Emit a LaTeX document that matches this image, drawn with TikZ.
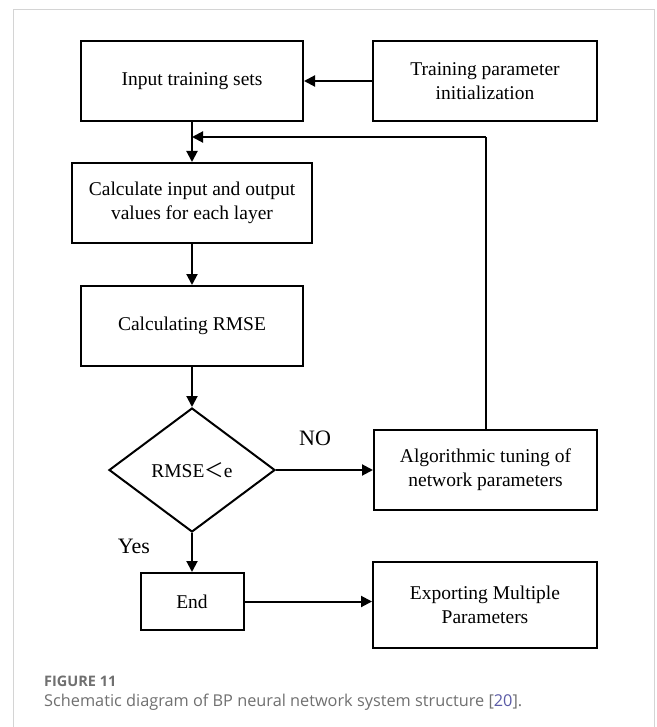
\documentclass[tikz,border=0pt]{standalone}
\usepackage{fontspec}
\setmainfont{Liberation Serif}
\newfontfamily\capfont{Open Sans}
\newfontfamily\cjkf{Noto Sans CJK SC}
\usetikzlibrary{arrows.meta,shapes.geometric}
\definecolor{capgray}{HTML}{707070}
\definecolor{reflink}{HTML}{5B5BA6}
\definecolor{framegray}{HTML}{D4D4D4}
\tikzset{
  box/.style={draw, line width=2pt, rectangle, align=center, inner sep=0pt,
    font=\fontsize{19.5}{24}\selectfont},
  dec/.style={draw, line width=2pt, diamond, inner sep=0pt,
    minimum width=166pt, minimum height=124pt, font=\fontsize{19.5}{24}\selectfont},
  arr/.style={line width=2pt, -{Triangle[length=11pt,width=11pt]}},
  ln/.style={line width=2pt},
  lbl/.style={font=\fontsize{22}{26}\selectfont, inner sep=0pt}
}
\begin{document}
\begin{tikzpicture}[x=1pt,y=-1pt]
\useasboundingbox (0,0) rectangle (656,727);
\fill[white] (0,0) rectangle (656,727);
\draw[framegray, line width=1pt] (13,728) -- (13,10) -- (654,10) -- (654,728);

\node[box, minimum width=222pt, minimum height=80pt] (input) at (192,81) {Input training sets};
\node[box, minimum width=224pt, minimum height=80pt] (train) at (485,81) {Training parameter\\initialization};
\node[box, minimum width=240pt, minimum height=80pt] (calc) at (192,203) {Calculate input and output\\values for each layer};
\node[box, minimum width=222pt, minimum height=80pt] (rmse) at (192,326) {Calculating RMSE};
\node[dec] (dec) at (192,470) {RMSE{\cjkf ＜}e};
\node[box, minimum width=223pt, minimum height=80pt] (algo) at (485.5,470) {Algorithmic tuning of\\network parameters};
\node[box, minimum width=103pt, minimum height=57pt] (end) at (192,601.5) {End};
\node[box, minimum width=224pt, minimum height=86pt] (export) at (485,605) {Exporting Multiple\\Parameters};

\coordinate (fbc) at (485.5,137);
\coordinate (fbj) at (192,137);

\draw[arr] (train.west) -- (input.east);
\draw[arr] (input.south) -- (calc.north);
\draw[ln] (algo.north) -- (fbc);
\draw[arr] (fbc) -- (fbj);
\draw[arr] (calc.south) -- (rmse.north);
\draw[arr] (rmse.south) -- (dec.north);
\draw[arr] (dec.east) -- (algo.west);
\draw[arr] (dec.south) -- (end.north);
\draw[arr] (end.east) -- (end.east -| export.west);

\node[lbl] (no) at (315,438) {NO};
\node[lbl] (yes) at (134,546) {Yes};

\node[anchor=west, inner sep=0pt, text=capgray, font=\capfont\fontsize{14.5}{17}\selectfont\bfseries] (fig) at (44,681) {FIGURE 11};
\node[anchor=west, inner sep=0pt, text=capgray, font=\capfont\fontsize{16.3}{20}\selectfont] (cap) at (44,702) {Schematic diagram of BP neural network system structure [{\color{reflink}20}].};
\end{tikzpicture}
\end{document}
